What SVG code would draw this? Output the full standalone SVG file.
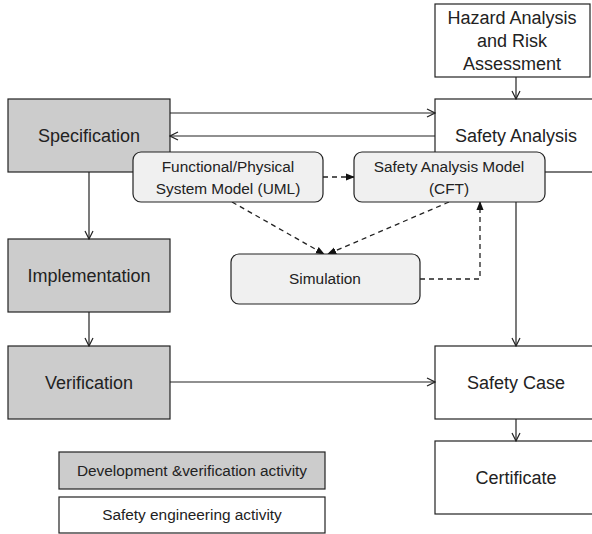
<svg xmlns="http://www.w3.org/2000/svg" width="592" height="534" viewBox="0 0 592 534">
<style>
.dev{fill:#cccccc;stroke:#222;stroke-width:1.2}
.safe{fill:#ffffff;stroke:#222;stroke-width:1.2}
.model{fill:#f0f0f0;stroke:#222;stroke-width:1.2}
.t{font-family:"Liberation Sans",Arial,sans-serif;fill:#222;text-anchor:middle}
.big{font-size:18px}
.sm{font-size:15.4px}
.line{fill:none;stroke:#222;stroke-width:1.2}
.dash{fill:none;stroke:#222;stroke-width:1.3;stroke-dasharray:5,4}
</style>
<defs>
<marker id="open" viewBox="0 0 10 10" refX="9" refY="5" markerWidth="10" markerHeight="10" markerUnits="userSpaceOnUse" orient="auto">
<path d="M1,1 L9,5 L1,9" fill="none" stroke="#222" stroke-width="1.2"/>
</marker>
<marker id="fill" viewBox="0 0 10 10" refX="9" refY="5" markerWidth="9" markerHeight="9" markerUnits="userSpaceOnUse" orient="auto">
<path d="M0,1 L10,5 L0,9 Z" fill="#111"/>
</marker>
</defs>
<g id="hazard"><rect class="safe" x="435" y="4" width="155" height="73"/>
<text class="t big" x="512" y="24">Hazard Analysis</text>
<text class="t big" x="512" y="47">and Risk</text>
<text class="t big" x="512" y="70">Assessment</text></g>
<g id="safety-analysis"><rect class="safe" x="435" y="99" width="162" height="73"/>
<text class="t big" x="516" y="142">Safety Analysis</text></g>
<g id="specification"><rect class="dev" x="8" y="99" width="162" height="73"/>
<text class="t big" x="89" y="142">Specification</text></g>
<g id="implementation"><rect class="dev" x="8" y="239" width="162" height="73"/>
<text class="t big" x="89" y="282">Implementation</text></g>
<g id="verification"><rect class="dev" x="8" y="346" width="162" height="73"/>
<text class="t big" x="89" y="389">Verification</text></g>
<g id="safety-case"><rect class="safe" x="435" y="346" width="162" height="73"/>
<text class="t big" x="516" y="389">Safety Case</text></g>
<g id="certificate"><rect class="safe" x="435" y="441" width="162" height="73"/>
<text class="t big" x="516" y="484">Certificate</text></g>
<g id="connectors">
<line class="line" x1="516" y1="77" x2="516" y2="99" marker-end="url(#open)"/>
<line class="line" x1="170" y1="113" x2="435" y2="113" marker-end="url(#open)"/>
<line class="line" x1="435" y1="136" x2="170" y2="136" marker-end="url(#open)"/>
<line class="line" x1="89" y1="172" x2="89" y2="239" marker-end="url(#open)"/>
<line class="line" x1="89" y1="312" x2="89" y2="346" marker-end="url(#open)"/>
<line class="line" x1="170" y1="382" x2="435" y2="382" marker-end="url(#open)"/>
<line class="line" x1="516" y1="172" x2="516" y2="346" marker-end="url(#open)"/>
<line class="line" x1="516" y1="419" x2="516" y2="441" marker-end="url(#open)"/>
<line class="dash" x1="323" y1="177" x2="354" y2="177" marker-end="url(#fill)"/>
<line class="dash" x1="232" y1="202" x2="324" y2="254" marker-end="url(#fill)"/>
<line class="dash" x1="449" y1="202" x2="328" y2="254" marker-end="url(#fill)"/>
<polyline class="dash" points="420,279 480,279 480,202" marker-end="url(#fill)"/>
</g>
<g id="functional-model"><rect class="model" x="133" y="152" width="190" height="50" rx="8"/>
<text class="t sm" x="228" y="172">Functional/Physical</text>
<text class="t sm" x="228" y="194">System Model (UML)</text></g>
<g id="safety-analysis-model"><rect class="model" x="354" y="152" width="191" height="50" rx="8"/>
<text class="t sm" x="449" y="172">Safety Analysis Model</text>
<text class="t sm" x="449" y="194">(CFT)</text></g>
<g id="simulation"><rect class="model" x="231" y="254" width="189" height="50" rx="8"/>
<text class="t sm" x="325" y="284">Simulation</text></g>
<g id="legend-dev"><rect class="dev" x="59" y="452" width="266" height="37"/>
<text class="t sm" x="192" y="476">Development &amp;verification activity</text></g>
<g id="legend-safe"><rect class="safe" x="59" y="497" width="266" height="36"/>
<text class="t sm" x="192" y="520">Safety engineering activity</text></g>
</svg>
